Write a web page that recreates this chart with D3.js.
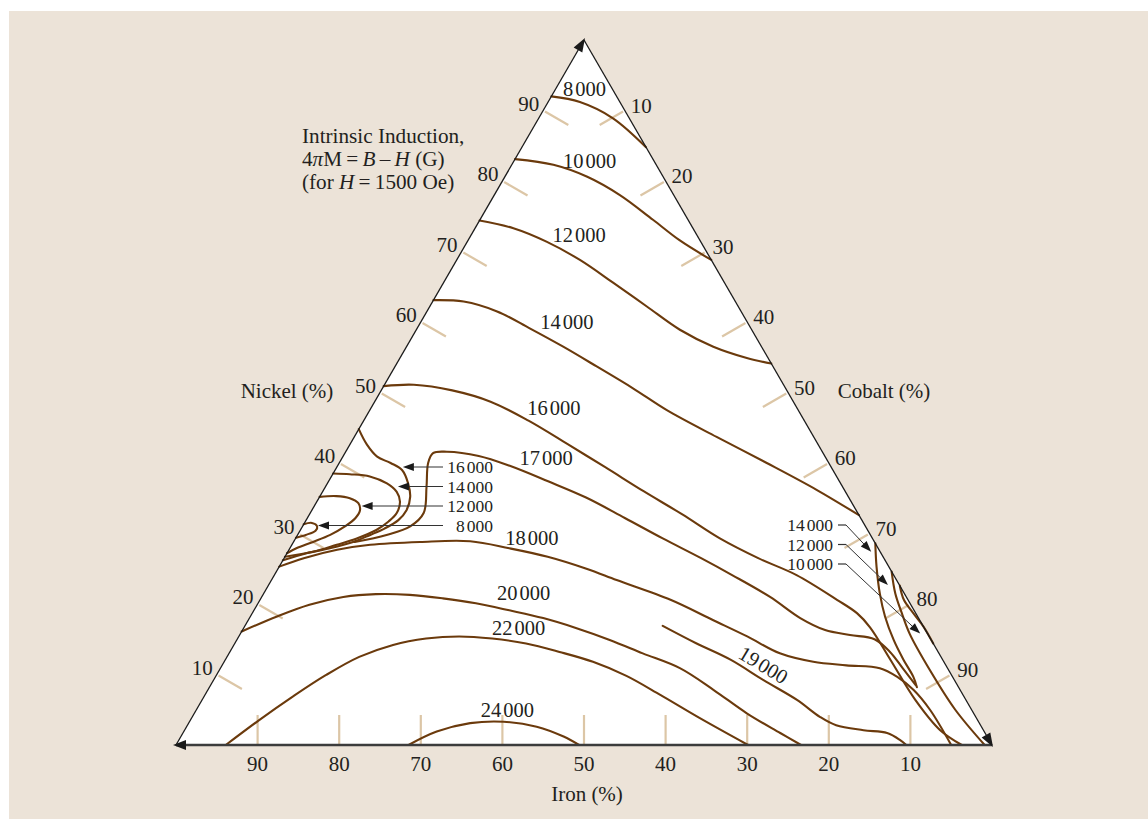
<!DOCTYPE html>
<html>
<head>
<meta charset="utf-8">
<script src="https://cdn.jsdelivr.net/npm/d3@7"></script>
<style>
  body { margin: 0; background: #ffffff; }
  svg text { font-family: "Liberation Serif", "Times New Roman", serif; fill: #231f20; }
</style>
</head>
<body>
<svg id="chart" width="1148" height="819"></svg>
<script>
// Fe–Co–Ni intrinsic induction contours.
// Every composition is written as [Co %, Ni %]; Fe % is the remainder.

const ironTicks   = [90, 80, 70, 60, 50, 40, 30, 20, 10];
const nickelTicks = [10, 20, 30, 40, 50, 60, 70, 80, 90];
const cobaltTicks = [10, 20, 30, 40, 50, 60, 70, 80, 90];

const iso8000 = [[0,92.0],[3.9,91.2],[9.1,88.9],[15.2,84.8]];
const iso10000 = [[0,83.1],[5.1,82.3],[10.1,80.6],[15.4,78.0],[21.2,74.5],[25.9,71.6],[31.2,68.8]];
const iso12000 = [[0,74.4],[4.7,73.3],[9.7,71.4],[15.1,68.8],[20.9,65.5],[26.6,62.2],[32.3,58.9],
                  [37.6,56.5],[42.5,54.9],[45.9,54.1]];
const iso14000 = [[0,63.1],[3.8,62.9],[8.6,61.5],[13.8,59.1],[19.2,56.5],[24.7,53.7],[30.7,50.6],
                  [36.4,47.5],[44.4,43.7],[52.4,40.0],[60.4,36.2],[67.4,32.6]];
const iso16000 = [[0,50.9],[3.6,51.1],[8.7,50.3],[14.2,48.7],[20.2,46.0],[26.6,42.7],[32.9,39.4],
                  [39.3,36.0],[45.7,32.7],[52.0,29.3],[58.1,26.5],[64.0,24.1],[70.7,20.6],
                  [74.1,18.7],[76.7,16.7],[81.5,12.1],[87.4,6.4],[92.6,2.1],[96.3,0]];
const iso17000 = [[7.5,28.8],[10.9,29.8],[13.2,31.0],[13.9,32.9],[12.4,36.6],[10.9,40.0],[10.8,41.4],
                  [12.4,41.6],[16.6,41.0],[21.1,39.6],[26.9,37.4],[32.7,35.1],[38.9,32.2],[45.0,29.3],
                  [51.1,26.5],[56.1,24.1],[62.3,21.0],[67.5,18.0],[71.4,16.3],[74.8,15.6],[78.1,15.0],
                  [80.9,13.2],[83.6,10.9],[86.4,8.5]];
const iso18000 = [[0,25.3],[2.4,26.5],[5.9,27.7],[9.6,28.4],[15.5,28.8],[21.6,28.9],[26.9,27.9],
                  [32.2,26.7],[37.8,25.0],[42.3,23.4],[50.3,20.6],[57.0,17.7],[62.3,15.4],[67.5,13.0],
                  [72.2,11.8],[76.5,11.3],[80.8,10.9],[83.5,9.7],[86.5,7.8],[89.9,5.0],[95.0,0]];
const iso19000 = [[51.2,16.9],[56.6,14.4],[61.9,12.1],[67.4,9.2],[72.9,6.4],[76.9,4.0],[79.5,2.8],
                  [83.2,2.1],[86.3,1.7],[88.4,0.7],[89.5,0]];
const iso20000 = [[0,16.1],[3.2,18.2],[6.4,19.9],[10.0,21.0],[13.8,21.4],[18.0,21.3],[22.3,20.8],
                  [26.7,20.1],[31.3,19.1],[36.0,18.0],[40.7,16.6],[45.7,14.9],[50.7,13.0],[56.3,10.9],
                  [62.0,7.8],[67.7,4.5],[73.2,1.7],[76.6,0]];
const iso22000 = [[6.1,0],[8.4,3.5],[10.9,6.9],[13.4,9.9],[16.2,12.5],[19.5,14.2],[23.1,15.1],
                  [27.0,15.4],[31.2,15.1],[35.7,14.4],[40.4,13.2],[45.2,11.8],[50.3,9.8],[55.8,7.1],
                  [62.3,3.8],[70.1,0]];
const iso24000 = [[28.5,0],[31.0,1.9],[34.5,3.1],[38.5,3.3],[42.9,2.6],[46.9,1.2],[49.4,0]];

// Nickel-rich pocket on the Fe–Ni side
const pocket16000 = [[0,44.8],[2.1,42.6],[4.2,40.9],[6.3,40.0],[8.2,39.0],[9.9,37.1],[11.1,35.2],
                     [11.6,33.3],[11.3,31.9],[10.2,30.7],[8.9,29.8],[7.3,28.8],[4.9,27.9],[2.4,27.2],[0,26.2]];
const pocket14000 = [[0,38.5],[2.1,38.4],[4.7,38.1],[7.3,37.1],[9.1,35.9],[10.2,34.5],[10.6,32.9],
                     [10.2,31.7],[9.3,30.5],[7.5,29.3],[5.5,28.4],[3.1,27.4],[0,26.7]];
const pocket12000 = [[0,35.2],[2.0,35.3],[3.8,35.0],[5.2,34.3],[5.9,33.3],[5.9,32.2],[5.2,31.0],
                     [4.0,29.8],[2.4,28.8],[0.8,27.9],[0,27.2]];
const pocket8000  = [[0,31.3],[0.9,31.5],[1.8,31.0],[1.9,30.4],[1.0,29.8],[0,29.4]];

// Cobalt-rich corner
const corner14000 = [[71.4,28.6],[73.2,25.3],[75.5,21.5],[77.8,18.2],[80.5,14.9],[83.1,12.1],[85.5,9.7],[86.7,8.2]];
const corner12000 = [[75.4,24.6],[77.4,21.5],[79.6,18.7],[82.0,15.8],[87.1,10.6],[93.0,5.0],[99.1,0]];
const corner10000 = [[77.4,22.6],[78.9,20.6],[81.0,18.7],[83.2,16.8],[85.6,14.4]];

// ---------------------------------------------------------------
const W = 1148, H = 819;
const svg = d3.select('#chart');
const brown = '#6b3a0c';
const tan = '#dcc6a6';

svg.append('rect').attr('x', 9).attr('y', 11).attr('width', W - 9).attr('height', H - 11)
   .attr('fill', '#ece3d8');

const xs = d3.scaleLinear().domain([0, 100]).range([176, 992]);
const ys = d3.scaleLinear().domain([0, 100]).range([745, 40]);
const P = ([co, ni]) => [xs(co + ni / 2), ys(ni)];

const cFe = P([0, 0]), cCo = P([100, 0]), cNi = P([0, 100]);

// white triangle
svg.append('path').attr('d', `M${cFe}L${cCo}L${cNi}Z`).attr('fill', '#ffffff');

// ticks
const gT = svg.append('g').attr('stroke', tan).attr('stroke-width', 2.2);
const tl = 29;
ironTicks.forEach(f => {
  const [x, y] = P([100 - f, 0]);
  gT.append('line').attr('x1', x).attr('y1', y).attr('x2', x).attr('y2', y - 30);
});
nickelTicks.forEach(n => {
  const [x, y] = P([0, n]);
  gT.append('line').attr('x1', x + 2 * 0.866).attr('y1', y + 1)
    .attr('x2', x + tl * 0.866).attr('y2', y + tl * 0.5);
});
cobaltTicks.forEach(c => {
  const [x, y] = P([c, 100 - c]);
  gT.append('line').attr('x1', x - 2 * 0.866).attr('y1', y + 1)
    .attr('x2', x - tl * 0.866).attr('y2', y + tl * 0.5);
});

// contours
const line = d3.line().x(d => P(d)[0]).y(d => P(d)[1]).curve(d3.curveCatmullRom.alpha(0.5));
const contours = [iso8000, iso10000, iso12000, iso14000, iso16000, iso17000, iso18000, iso19000,
                  iso20000, iso22000, iso24000, pocket16000, pocket14000, pocket12000, pocket8000,
                  corner14000, corner12000, corner10000];
svg.append('g').selectAll('path').data(contours).join('path')
   .attr('d', line).attr('fill', 'none').attr('stroke', brown)
   .attr('stroke-width', 2.1).attr('stroke-linejoin', 'round').attr('stroke-linecap', 'round');

// frame with arrowheads
function arrowHead(g, tip, from, len, hw, fill) {
  const dx = tip[0] - from[0], dy = tip[1] - from[1];
  const L = Math.hypot(dx, dy), ux = dx / L, uy = dy / L;
  const bx = tip[0] - ux * len, by = tip[1] - uy * len;
  g.append('path')
   .attr('d', `M${tip[0]},${tip[1]}L${bx - uy * hw},${by + ux * hw}L${bx + uy * hw},${by - ux * hw}Z`)
   .attr('fill', fill);
}
const gF = svg.append('g');
gF.append('line').attr('x1', cFe[0]).attr('y1', cFe[1]).attr('x2', cNi[0]).attr('y2', cNi[1])
  .attr('stroke', '#1a1a1a').attr('stroke-width', 1.3);
gF.append('line').attr('x1', cNi[0]).attr('y1', cNi[1]).attr('x2', cCo[0]).attr('y2', cCo[1])
  .attr('stroke', '#1a1a1a').attr('stroke-width', 1.3);
gF.append('line').attr('x1', cCo[0]).attr('y1', cCo[1]).attr('x2', cFe[0]).attr('y2', cFe[1])
  .attr('stroke', '#3c3c3c').attr('stroke-width', 2.6);
arrowHead(gF, [cNi[0] + 1, cNi[1] - 2], cFe, 14, 5, '#1a1a1a');
arrowHead(gF, [cCo[0] + 1, cCo[1] + 2], cNi, 14, 5, '#1a1a1a');
arrowHead(gF, [cFe[0] - 3, cFe[1]], cCo, 13, 5, '#1a1a1a');

// tick labels
const tickFont = 21;
ironTicks.forEach(f => {
  const [x, y] = P([100 - f, 0]);
  svg.append('text').attr('x', x).attr('y', y + 26).attr('text-anchor', 'middle')
     .attr('font-size', tickFont).text(f);
});
nickelTicks.forEach(n => {
  const [x, y] = P([0, n]);
  svg.append('text').attr('x', x - 4).attr('y', y).attr('text-anchor', 'end')
     .attr('font-size', tickFont).text(n);
});
cobaltTicks.forEach(c => {
  const [x, y] = P([c, 100 - c]);
  svg.append('text').attr('x', x + 6).attr('y', y + 2).attr('text-anchor', 'start')
     .attr('font-size', tickFont).text(c);
});

// axis titles
svg.append('text').attr('x', 287).attr('y', 398).attr('text-anchor', 'middle')
   .attr('font-size', tickFont).text('Nickel (%)');
svg.append('text').attr('x', 884).attr('y', 398).attr('text-anchor', 'middle')
   .attr('font-size', tickFont).text('Cobalt (%)');
svg.append('text').attr('x', 587).attr('y', 801).attr('text-anchor', 'middle')
   .attr('font-size', tickFont).text('Iron (%)');

// title block
const tb = svg.append('g').attr('font-size', 21.2);
tb.append('text').attr('x', 302).attr('y', 143).text('Intrinsic Induction,');
const t2 = tb.append('text').attr('x', 302).attr('y', 166);
t2.append('tspan').text('4');
t2.append('tspan').attr('font-style', 'italic').text('π');
t2.append('tspan').text('M\u2009=\u2009');
t2.append('tspan').attr('font-style', 'italic').text('B');
t2.append('tspan').text('\u2009–\u2009');
t2.append('tspan').attr('font-style', 'italic').text('H');
t2.append('tspan').text(' (G)');
const t3 = tb.append('text').attr('x', 302).attr('y', 189);
t3.append('tspan').text('(for ');
t3.append('tspan').attr('font-style', 'italic').text('H');
t3.append('tspan').text('\u2009=\u20091500 Oe)');

// contour value labels with a thin thousands gap
function valueText(sel, v, size) {
  const s = String(v), head = s.slice(0, s.length - 3), tail = s.slice(-3);
  sel.attr('font-size', size);
  sel.append('tspan').text(head);
  sel.append('tspan').attr('dx', 2).text(tail);
  return sel;
}
const inline = [
  [8000, [4.0, 92.1]], [10000, [9.8, 81.8]], [12000, [13.7, 71.4]], [14000, [18.4, 59.0]],
  [16000, [22.9, 46.8]], [17000, [25.5, 39.7]], [18000, [29.4, 28.4]], [20000, [32.3, 20.6]],
  [22000, [34.2, 15.6]], [24000, [38.6, 4.0]]
];
inline.forEach(([v, at]) => {
  const [x, y] = P(at);
  valueText(svg.append('text').attr('x', x).attr('y', y).attr('text-anchor', 'middle'), v, 20.5);
});
{
  const [x, y] = P([66.3, 11.1]);
  valueText(svg.append('text').attr('text-anchor', 'middle').attr('dominant-baseline', 'middle')
     .attr('transform', `translate(${x},${y}) rotate(31)`), 19000, 20.5);
}

// callouts
const gC = svg.append('g');
const leftCallouts = [
  [16000, 467, [8.1, 39.4]], [14000, 486.5, [8.9, 36.6]],
  [12000, 506, [5.8, 33.9]], [8000, 525.5, [1.8, 31.2]]
];
leftCallouts.forEach(([v, cy, tip]) => {
  valueText(gC.append('text').attr('x', 493).attr('y', cy + 6).attr('text-anchor', 'end'), v, 17.5);
  const [tx] = P(tip);
  gC.append('line').attr('x1', 443).attr('y1', cy).attr('x2', tx + 8).attr('y2', cy)
    .attr('stroke', '#333').attr('stroke-width', 1.2);
  arrowHead(gC, [tx, cy], [443, cy], 11, 4, '#1a1a1a');
});
const rightCallouts = [
  [14000, 525, [71.5, 27.4]], [12000, 544.5, [75.9, 22.7]], [10000, 564, [83.3, 15.8]]
];
rightCallouts.forEach(([v, cy, tip]) => {
  valueText(gC.append('text').attr('x', 833).attr('y', cy + 6).attr('text-anchor', 'end'), v, 17.5);
  const t = P(tip);
  gC.append('line').attr('x1', 838).attr('y1', cy).attr('x2', 846).attr('y2', cy)
    .attr('stroke', '#333').attr('stroke-width', 1.2);
  const dx = t[0] - 846, dy = t[1] - cy, L = Math.hypot(dx, dy);
  gC.append('line').attr('x1', 846).attr('y1', cy)
    .attr('x2', t[0] - dx / L * 8).attr('y2', t[1] - dy / L * 8)
    .attr('stroke', '#333').attr('stroke-width', 1);
  arrowHead(gC, t, [846, cy], 11, 4, '#1a1a1a');
});
</script>
</body>
</html>
